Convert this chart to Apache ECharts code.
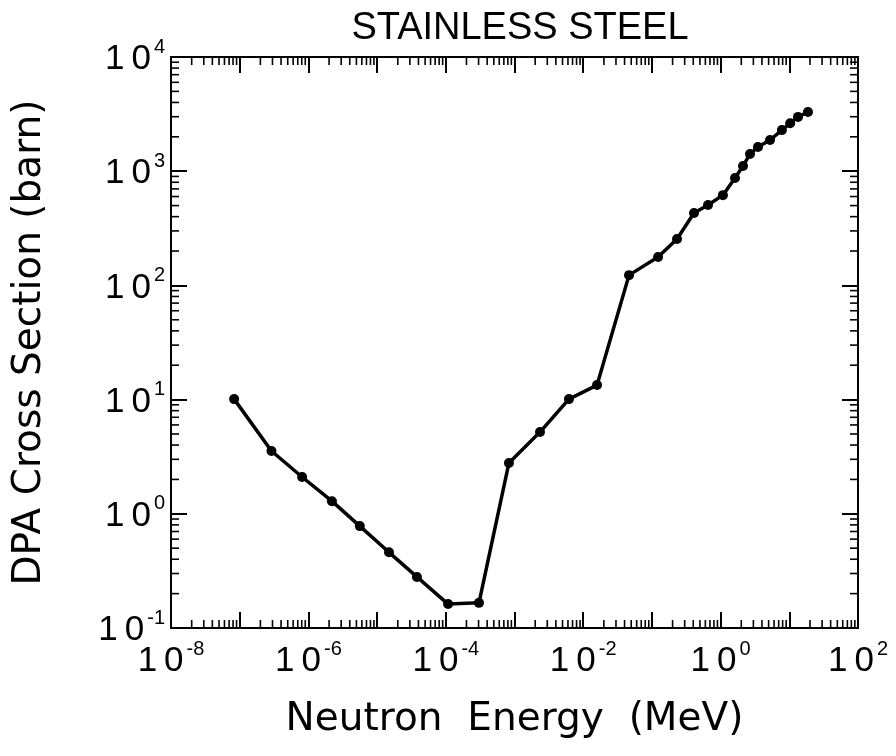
<!DOCTYPE html>
<html>
<head>
<meta charset="utf-8">
<script src="https://cdn.jsdelivr.net/npm/echarts@6/dist/echarts.min.js"></script>
<style>
html,body{margin:0;padding:0;background:#fff;}
#c{width:896px;height:756px;}
</style>
</head>
<body>
<div id="c"></div>
<script>
// Data
const energyMeV = [8.3e-8, 2.9e-7, 8.1e-7, 2.2e-6, 5.6e-6, 1.49e-5, 3.8e-5, 1.08e-4, 3.04e-4, 8.3e-4,
  2.35e-3, 6.2e-3, 0.0159, 0.0465, 0.123, 0.232, 0.41, 0.656, 1.08, 1.62,
  2.12, 2.68, 3.5, 5.24, 7.8, 10.3, 13.4, 18.7];
const dpaBarn = [10.1, 3.55, 2.1, 1.29, 0.78, 0.46, 0.28, 0.162, 0.166, 2.79,
  5.2, 10.1, 13.4, 123, 177, 255, 430, 506, 617, 871,
  1110, 1415, 1630, 1875, 2290, 2630, 2990, 3300];

const xTickExponents = [-8, -6, -4, -2, 0, 2];
const yTickExponents = [-1, 0, 1, 2, 3, 4];
const titleText = 'STAINLESS STEEL';
const xAxisTitle = 'Neutron  Energy  (MeV)';
const yAxisTitle = 'DPA Cross Section (barn)';

const xMin = 1e-8, xMax = 1e2, yMin = 1e-1, yMax = 1e4;

// minor tick positions (2..9 x 10^k)
const xMinor = [], yMinor = [];
for (let e = -8; e < 2; e++) for (let m = 2; m <= 9; m++) xMinor.push([m * Math.pow(10, e), 1]);
for (let e = -1; e < 4; e++) for (let m = 2; m <= 9; m++) yMinor.push([1e-6, m * Math.pow(10, e)]);

const FONT = 'Liberation Sans';
const TFONT = 'DejaVu Sans';
const rich = {
  b: { fontSize: 35, fontFamily: FONT, color: '#000', lineHeight: 40, verticalAlign: 'bottom' },
  e: { fontSize: 20, fontFamily: FONT, color: '#000', lineHeight: 40, verticalAlign: 'top', padding: [0, 0, 0, 3] }
};
function fmt(list) {
  return function (v) {
    const ex = Math.round(Math.log10(v));
    if (list.indexOf(ex) < 0) return '';
    return '{b|1\u20090}{e|' + ex + '}';
  };
}

const chart = echarts.init(document.getElementById('c'), null, { renderer: 'canvas' });
const axisLine = { show: true, onZero: false, lineStyle: { color: '#000', width: 2 } };
const majorTick = { show: true, inside: true, length: 16, lineStyle: { color: '#000', width: 2 } };

function minorRender(dir) {
  return function (params, api) {
    const v = dir === 'x' ? api.value(0) : api.value(1);
    const L = 8;
    const st = { stroke: '#000', lineWidth: 1.6 };
    if (dir === 'x') {
      const b = api.coord([v, yMin]);
      const t = api.coord([v, yMax]);
      return { type: 'group', children: [
        { type: 'line', shape: { x1: b[0], y1: b[1], x2: b[0], y2: b[1] - L }, style: st },
        { type: 'line', shape: { x1: t[0], y1: t[1], x2: t[0], y2: t[1] + L }, style: st }
      ]};
    } else {
      const l = api.coord([xMin, v]);
      const r = api.coord([xMax, v]);
      return { type: 'group', children: [
        { type: 'line', shape: { x1: l[0], y1: l[1], x2: l[0] + L, y2: l[1] }, style: st },
        { type: 'line', shape: { x1: r[0], y1: r[1], x2: r[0] - L, y2: r[1] }, style: st }
      ]};
    }
  };
}

chart.setOption({
  animation: false,
  backgroundColor: '#fff',
  title: {
    text: titleText,
    left: 515, top: 5, textAlign: 'center',
    textStyle: { fontFamily: FONT, fontSize: 38, fontWeight: 'normal', color: '#000' }
  },
  grid: { left: 171, top: 57, width: 687, height: 571, containLabel: false },
  xAxis: [{
    type: 'log', logBase: 10, min: xMin, max: xMax, interval: 1,
    position: 'bottom',
    axisLine: axisLine, axisTick: Object.assign({ interval: 0 }, majorTick),
    splitLine: { show: false },
    axisLabel: { interval: 0, margin: 11, formatter: fmt(xTickExponents), rich: rich },
    name: xAxisTitle, nameLocation: 'middle', nameGap: 72,
    nameTextStyle: { fontFamily: TFONT, fontSize: 39, color: '#000', lineHeight: 40, verticalAlign: 'top' }
  }, {
    type: 'log', logBase: 10, min: xMin, max: xMax, interval: 1,
    position: 'top',
    axisLine: axisLine, axisTick: Object.assign({ interval: 0 }, majorTick),
    splitLine: { show: false }, axisLabel: { show: false }
  }],
  yAxis: [{
    type: 'log', logBase: 10, min: yMin, max: yMax, interval: 1,
    position: 'left',
    axisLine: axisLine, axisTick: Object.assign({ interval: 0 }, majorTick),
    splitLine: { show: false },
    axisLabel: { interval: 0, margin: 6, formatter: fmt(yTickExponents), rich: rich },
    name: yAxisTitle, nameLocation: 'middle', nameGap: 122, nameRotate: 90,
    nameTextStyle: { fontFamily: TFONT, fontSize: 39, color: '#000' }
  }, {
    type: 'log', logBase: 10, min: yMin, max: yMax, interval: 1,
    position: 'right',
    axisLine: axisLine, axisTick: Object.assign({ interval: 0 }, majorTick),
    splitLine: { show: false }, axisLabel: { show: false }
  }],
  series: [{
    type: 'custom', xAxisIndex: 0, yAxisIndex: 0, silent: true, z: 1,
    renderItem: minorRender('x'), data: xMinor, clip: false
  }, {
    type: 'custom', xAxisIndex: 0, yAxisIndex: 0, silent: true, z: 1,
    renderItem: minorRender('y'), data: yMinor, clip: false
  }, {
    type: 'line', xAxisIndex: 0, yAxisIndex: 0, z: 5,
    data: energyMeV.map((x, i) => [x, dpaBarn[i]]),
    symbol: 'circle', symbolSize: 10,
    lineStyle: { color: '#000', width: 3.5 },
    itemStyle: { color: '#000' }
  }]
});
</script>
</body>
</html>
